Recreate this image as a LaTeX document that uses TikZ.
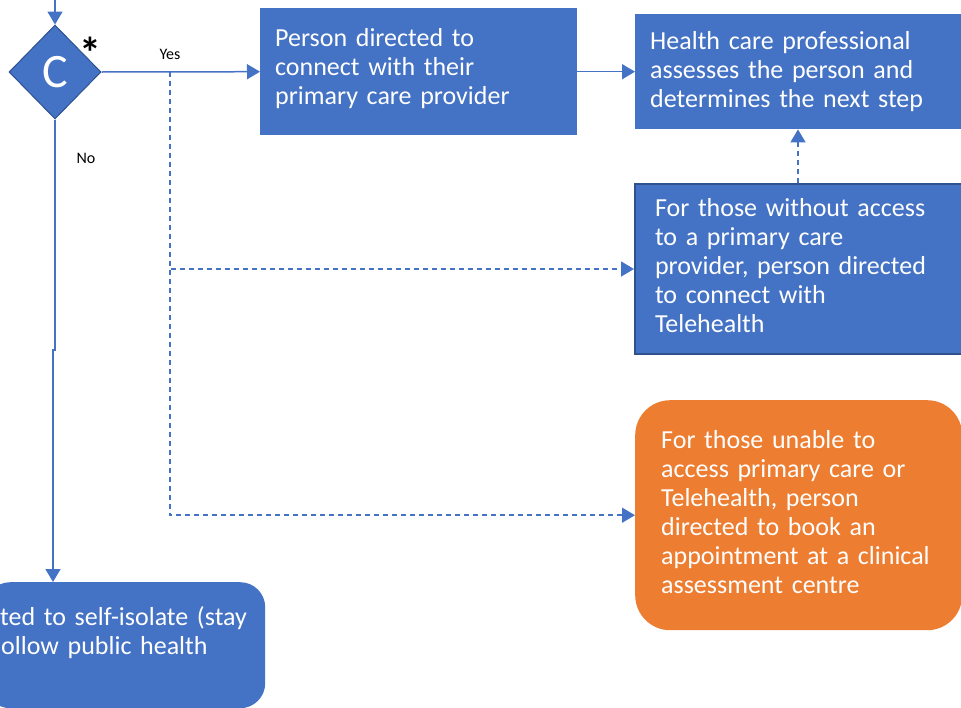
\documentclass[tikz,border=0pt]{standalone}
\usepackage{fontspec}
\setmainfont{Carlito}
\usepackage{tikz}
\usetikzlibrary{shapes.geometric,arrows.meta,positioning}

\definecolor{boxblue}{HTML}{4472C4}
\definecolor{boxedge}{HTML}{2F528F}
\definecolor{boxorange}{HTML}{ED7D31}

\tikzset{
  flowbox/.style={fill=boxblue, text=white, anchor=north west, align=left, inner ysep=0pt, font=\fontsize{26}{29}\selectfont},
  raisetext/.style={execute at end node={\par\vspace*{#1}}},
  flowline/.style={draw=boxblue, line width=1.5pt, -{Triangle[length=13pt,width=15pt]}},
  flowdash/.style={flowline, dashed, dash pattern=on 5pt off 4pt},
  flowlabel/.style={font=\fontsize{16}{16}\selectfont},
}

\begin{document}
\begin{tikzpicture}[x=1pt,y=-1pt]
    \useasboundingbox (0,0) rectangle (961,707);
    \clip (0,0) rectangle (961,707);

    % 判断 C
    \node[diamond, fill=boxblue, draw=boxedge, line width=1pt, minimum width=92pt, minimum height=94pt, inner sep=0pt, text=white, font=\fontsize{48}{48}\selectfont] (checkC) at (55,72) {C};
    \node[font=\fontsize{44}{44}\selectfont\bfseries] (star) at (90,53) {*};

    % ボックス
    \node[flowbox, raisetext=7pt, text width=287pt, inner xsep=15pt, minimum height=127pt] (direct) at (260,8) {Person directed to\\connect with their\\primary care provider};
    \node[flowbox, text width=315pt, inner xsep=15pt, minimum height=115pt] (assess) at (635,14) {Health care professional\\assesses the person and\\determines the next step};
    \node[flowbox, raisetext=7pt, draw=boxedge, line width=2pt, text width=320pt, inner xsep=20pt, minimum height=170pt] (telehealth) at (634,183) {For those without access\\to a primary care\\provider, person directed\\to connect with\\Telehealth};
    \node[flowbox, raisetext=6pt, fill=boxorange, rounded corners=35pt, text width=275pt, inner xsep=26pt, minimum height=230pt] (clinic) at (635,400) {For those unable to\\access primary care or\\Telehealth, person\\directed to book an\\appointment at a clinical\\assessment centre};
    \node[flowbox, rounded corners=25pt, text width=250pt, inner xsep=15pt, minimum height=126pt] (isolate) at (-15,582) {\mbox{ted to self-isolate (stay}\\\mbox{\hspace*{1pt}ollow public health}\\\mbox{}};

    % 補助座標
    \coordinate (entry) at (55,0);
    \coordinate (branch) at (170,71.5);
    \coordinate (jogtop) at (55,350);
    \coordinate (jogbot) at (53,350);
    \coordinate (noend) at (53,0 |- isolate.north);
    \coordinate (upfrom) at (798,0 |- telehealth.north);
    \coordinate (upto) at (798,0 |- assess.south);

    % 実線の矢印
    \draw[flowline] (entry) -- (checkC.north);
    \draw[flowline] (checkC.east) -- (direct.west);
    \draw[flowline] (direct.east) -- (assess.west);
    \draw[flowline] (checkC.south) -- (jogtop) -- (jogbot) -- (noend);

    % 破線の矢印
    \draw[flowdash] (upfrom) -- (upto);
    \draw[flowdash] (branch) |- (telehealth.west);
    \draw[flowdash] (branch) |- (clinic.west);

    % ラベル
    \node[flowlabel] (yeslabel) at (170,54) {Yes};
    \node[flowlabel] (nolabel) at (86,158) {No};
\end{tikzpicture}
\end{document}
